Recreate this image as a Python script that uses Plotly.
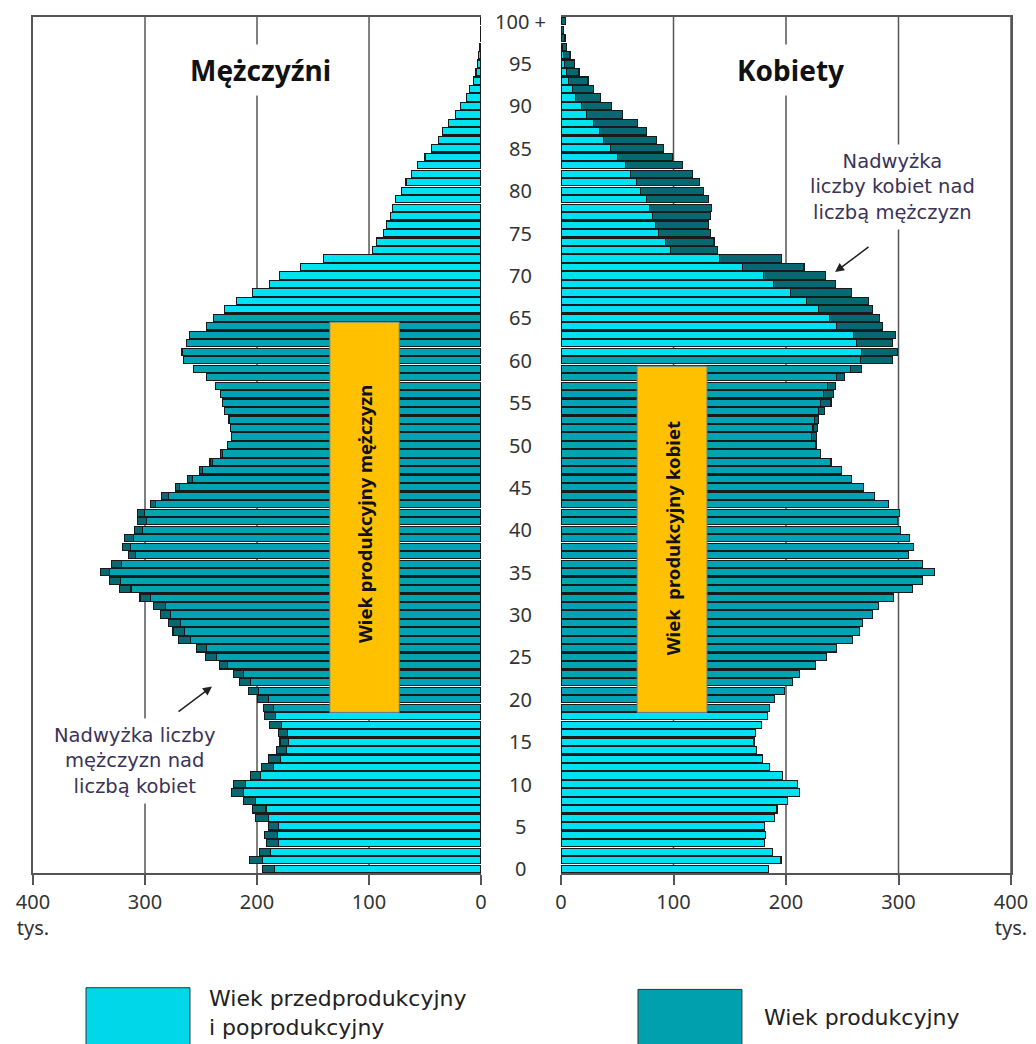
import plotly.graph_objects as go

ages = list(range(0, 101))
age_labels = [str(a) for a in range(0, 100, 5)] + ["100 +"]
age_label_pos = list(range(0, 101, 5))

# population in thousands
males = [195, 207, 198, 191.5, 193, 190, 201, 204, 212, 222.5,
         221, 206, 196, 190, 182.5, 179.5, 181, 188.5, 193, 194.5,
         199.5, 207.5, 216, 221, 233.5, 246, 254, 270, 275, 279,
         286, 292.5, 304.5, 323, 332, 340, 330, 315, 320, 318.5,
         309, 307, 307, 295.5, 285, 273, 262, 251, 242, 233,
         226, 223, 224, 225, 229, 231, 233, 237, 245, 257,
         266, 267, 263, 260, 245, 239, 229, 218, 204, 189,
         180, 161, 141, 97, 93, 87, 84, 81, 79, 76,
         71, 67, 62, 57, 50, 44, 38, 34, 29, 23,
         18, 13, 10, 7, 4.5, 3, 2, 1.3, 0.8, 0.5, 0.3]
females = [184.5, 195.5, 188, 181, 182, 181, 189.5, 192, 201.5, 212,
           210.5, 196.5, 185.5, 179, 174, 171.5, 173, 178, 183.5, 185,
           189.5, 199, 206, 212, 226.5, 236, 245, 259, 265, 268,
           277, 282, 295.5, 312.5, 321.5, 332, 321, 308.5, 313, 310,
           302, 299, 300.5, 291, 279, 269, 258, 249, 240, 231,
           227, 227, 228, 229, 234, 240, 242, 244, 252, 267,
           295, 299, 295, 297, 286, 283, 277, 273, 258, 244,
           235, 216, 196, 139, 136, 133, 131, 133, 134, 131,
           127, 123, 117, 108, 99, 91, 85, 76, 68, 55,
           45, 35, 29, 24, 16, 12, 8, 5, 3.5, 2, 4]

# rows drawn in the "productive" colour (as they appear in the picture)
prod_male = (19, 65)
prod_female = (19, 60)

LIGHT = "#00E2F2"
TEAL = "#00A3B2"
DARK = "#066870"
EDGE = "#1a1a1a"
GRID = "#555555"

base = [min(m, f) for m, f in zip(males, females)]
m_sur = [m - f if m > f else None for m, f in zip(males, females)]
f_sur = [f - m if f > m else None for m, f in zip(males, females)]
m_col = [TEAL if prod_male[0] <= a <= prod_male[1] else LIGHT for a in ages]
f_col = [TEAL if prod_female[0] <= a <= prod_female[1] else LIGHT for a in ages]

fig = go.Figure()
line = dict(color=EDGE, width=1.1)
fig.add_trace(go.Bar(y=ages, x=base, orientation="h", marker=dict(color=m_col, line=line),
                     xaxis="x", yaxis="y", hoverinfo="skip"))
fig.add_trace(go.Bar(y=ages, x=m_sur, orientation="h", marker=dict(color=DARK, line=line),
                     xaxis="x", yaxis="y", hoverinfo="skip"))
fig.add_trace(go.Bar(y=ages, x=base, orientation="h", marker=dict(color=f_col, line=line),
                     xaxis="x2", yaxis="y2", hoverinfo="skip"))
fig.add_trace(go.Bar(y=ages, x=f_sur, orientation="h", marker=dict(color=DARK, line=line),
                     xaxis="x2", yaxis="y2", hoverinfo="skip"))

xticks = [0, 100, 200, 300, 400]
xtext = ["0", "100", "200", "300", "400<br>tys."]
FONT = "Noto Sans"
TXT = "DejaVu Sans"
axis_common = dict(tickvals=xticks, ticktext=xtext, ticks="outside", ticklen=10, tickcolor=GRID,
                   tickwidth=1.5, showline=True, linecolor=GRID, linewidth=1.5, mirror=True,
                   showgrid=False, zeroline=False, tickfont=dict(family=FONT, size=20, color="#333"),
                   fixedrange=True)
fig.update_layout(
    width=1036, height=1044, autosize=False,
    margin=dict(l=25, r=33, t=7, b=179, pad=0),
    paper_bgcolor="white", plot_bgcolor="white",
    barmode="stack", bargap=0.15, showlegend=False,
    xaxis=dict(domain=[0, 0.4581], range=[400, 0], anchor="y", **axis_common),
    xaxis2=dict(domain=[0.5399, 1], range=[0, 400], anchor="y2", **axis_common),
    yaxis=dict(range=[-0.5, 100.5], anchor="x", showticklabels=False, showgrid=False,
               zeroline=False, showline=True, linecolor=GRID, linewidth=1.5, ticks=""),
    yaxis2=dict(range=[-0.5, 100.5], anchor="x2", matches="y", side="right", showticklabels=False,
                showgrid=False, zeroline=False, showline=True, linecolor=GRID, linewidth=1.5, ticks=""),
)

shapes = []
for v in [100, 200, 300]:
    shapes.append(dict(type="line", xref="x", yref="paper", x0=v, x1=v, y0=0, y1=1,
                       line=dict(color=GRID, width=1.5), layer="below"))
for v in [100, 200, 300, 400]:
    shapes.append(dict(type="line", xref="x2", yref="paper", x0=v, x1=v, y0=0, y1=1,
                       line=dict(color=GRID, width=1.5), layer="below"))
# yellow boxes
shapes.append(dict(type="rect", xref="x", yref="y", x0=73, x1=135, y0=18.45, y1=64.5,
                   fillcolor="#FFC000", line=dict(color="#5b7fa3", width=1), layer="above"))
shapes.append(dict(type="rect", xref="x2", yref="y2", x0=67.6, x1=129.8, y0=18.45, y1=59.3,
                   fillcolor="#FFC000", line=dict(color="#5b7fa3", width=1), layer="above"))
# legend boxes
shapes.append(dict(type="rect", xref="paper", yref="paper", x0=0.0542, x1=0.1605, y0=-0.134, y1=-0.21,
                   fillcolor="#00D8EA", line=dict(color="#333", width=1)))
shapes.append(dict(type="rect", xref="paper", yref="paper", x0=0.6186, x1=0.7249, y0=-0.136, y1=-0.21,
                   fillcolor="#00A0AE", line=dict(color="#333", width=1)))

ann = []
for a, t in zip(age_label_pos, age_labels):
    ann.append(dict(text=t, xref="paper", yref="y", x=0.498, y=a, showarrow=False,
                    xanchor="center", yanchor="middle", font=dict(family=FONT, size=20, color="#333")))
ann.append(dict(text="<b>Mężczyźni</b>", xref="x", yref="y", x=197, y=94.2, showarrow=False,
                font=dict(family=FONT, size=28, color="#111"), bgcolor="white", borderpad=6))
ann.append(dict(text="<b>Kobiety</b>", xref="x2", yref="y2", x=204, y=94.2, showarrow=False,
                font=dict(family=FONT, size=28, color="#111"), bgcolor="white", borderpad=6))
ann.append(dict(text="Nadwyżka<br>liczby kobiet nad<br>liczbą mężczyzn", xref="x2", yref="y2",
                x=295, y=80.4, showarrow=False, font=dict(family=TXT, size=19.5, color="#3a3356"),
                bgcolor="white", borderpad=5))
ann.append(dict(text="Nadwyżka liczby<br>mężczyzn nad<br>liczbą kobiet", xref="x", yref="y",
                x=309, y=12.7, showarrow=False, font=dict(family=TXT, size=19.5, color="#3a3356"),
                bgcolor="white", borderpad=5))
ann.append(dict(text="", xref="x", yref="y", x=240.2, y=21.5, ax=271.4, ay=18.4, axref="x", ayref="y",
                showarrow=True, arrowhead=2, arrowsize=1.2, arrowwidth=1.5, arrowcolor="#222"))
ann.append(dict(text="", xref="x2", yref="y2", x=243.6, y=70.4, ax=274.7, ay=73.5, axref="x2", ayref="y2",
                showarrow=True, arrowhead=2, arrowsize=1.2, arrowwidth=1.5, arrowcolor="#222"))
ann.append(dict(text="<b>Wiek produkcyjny mężczyzn</b>", xref="x", yref="y", x=104, y=41.8,
                textangle=-90, showarrow=False, font=dict(family=FONT, size=18.5, color="#111")))
ann.append(dict(text="<b>Wiek  produkcyjny kobiet</b>", xref="x2", yref="y2", x=98.7, y=39,
                textangle=-90, showarrow=False, font=dict(family=FONT, size=18.5, color="#111")))
ann.append(dict(text="Wiek przedprodukcyjny<br>i poprodukcyjny", xref="paper", yref="paper",
                x=0.1779, y=-0.163, xanchor="left", yanchor="middle", align="left", showarrow=False,
                font=dict(family=TXT, size=22, color="#222")))
ann.append(dict(text="Wiek produkcyjny", xref="paper", yref="paper",
                x=0.7454, y=-0.169, xanchor="left", yanchor="middle", align="left", showarrow=False,
                font=dict(family=TXT, size=22, color="#222")))

fig.update_layout(shapes=shapes, annotations=ann)
fig.write_html("out.html")
